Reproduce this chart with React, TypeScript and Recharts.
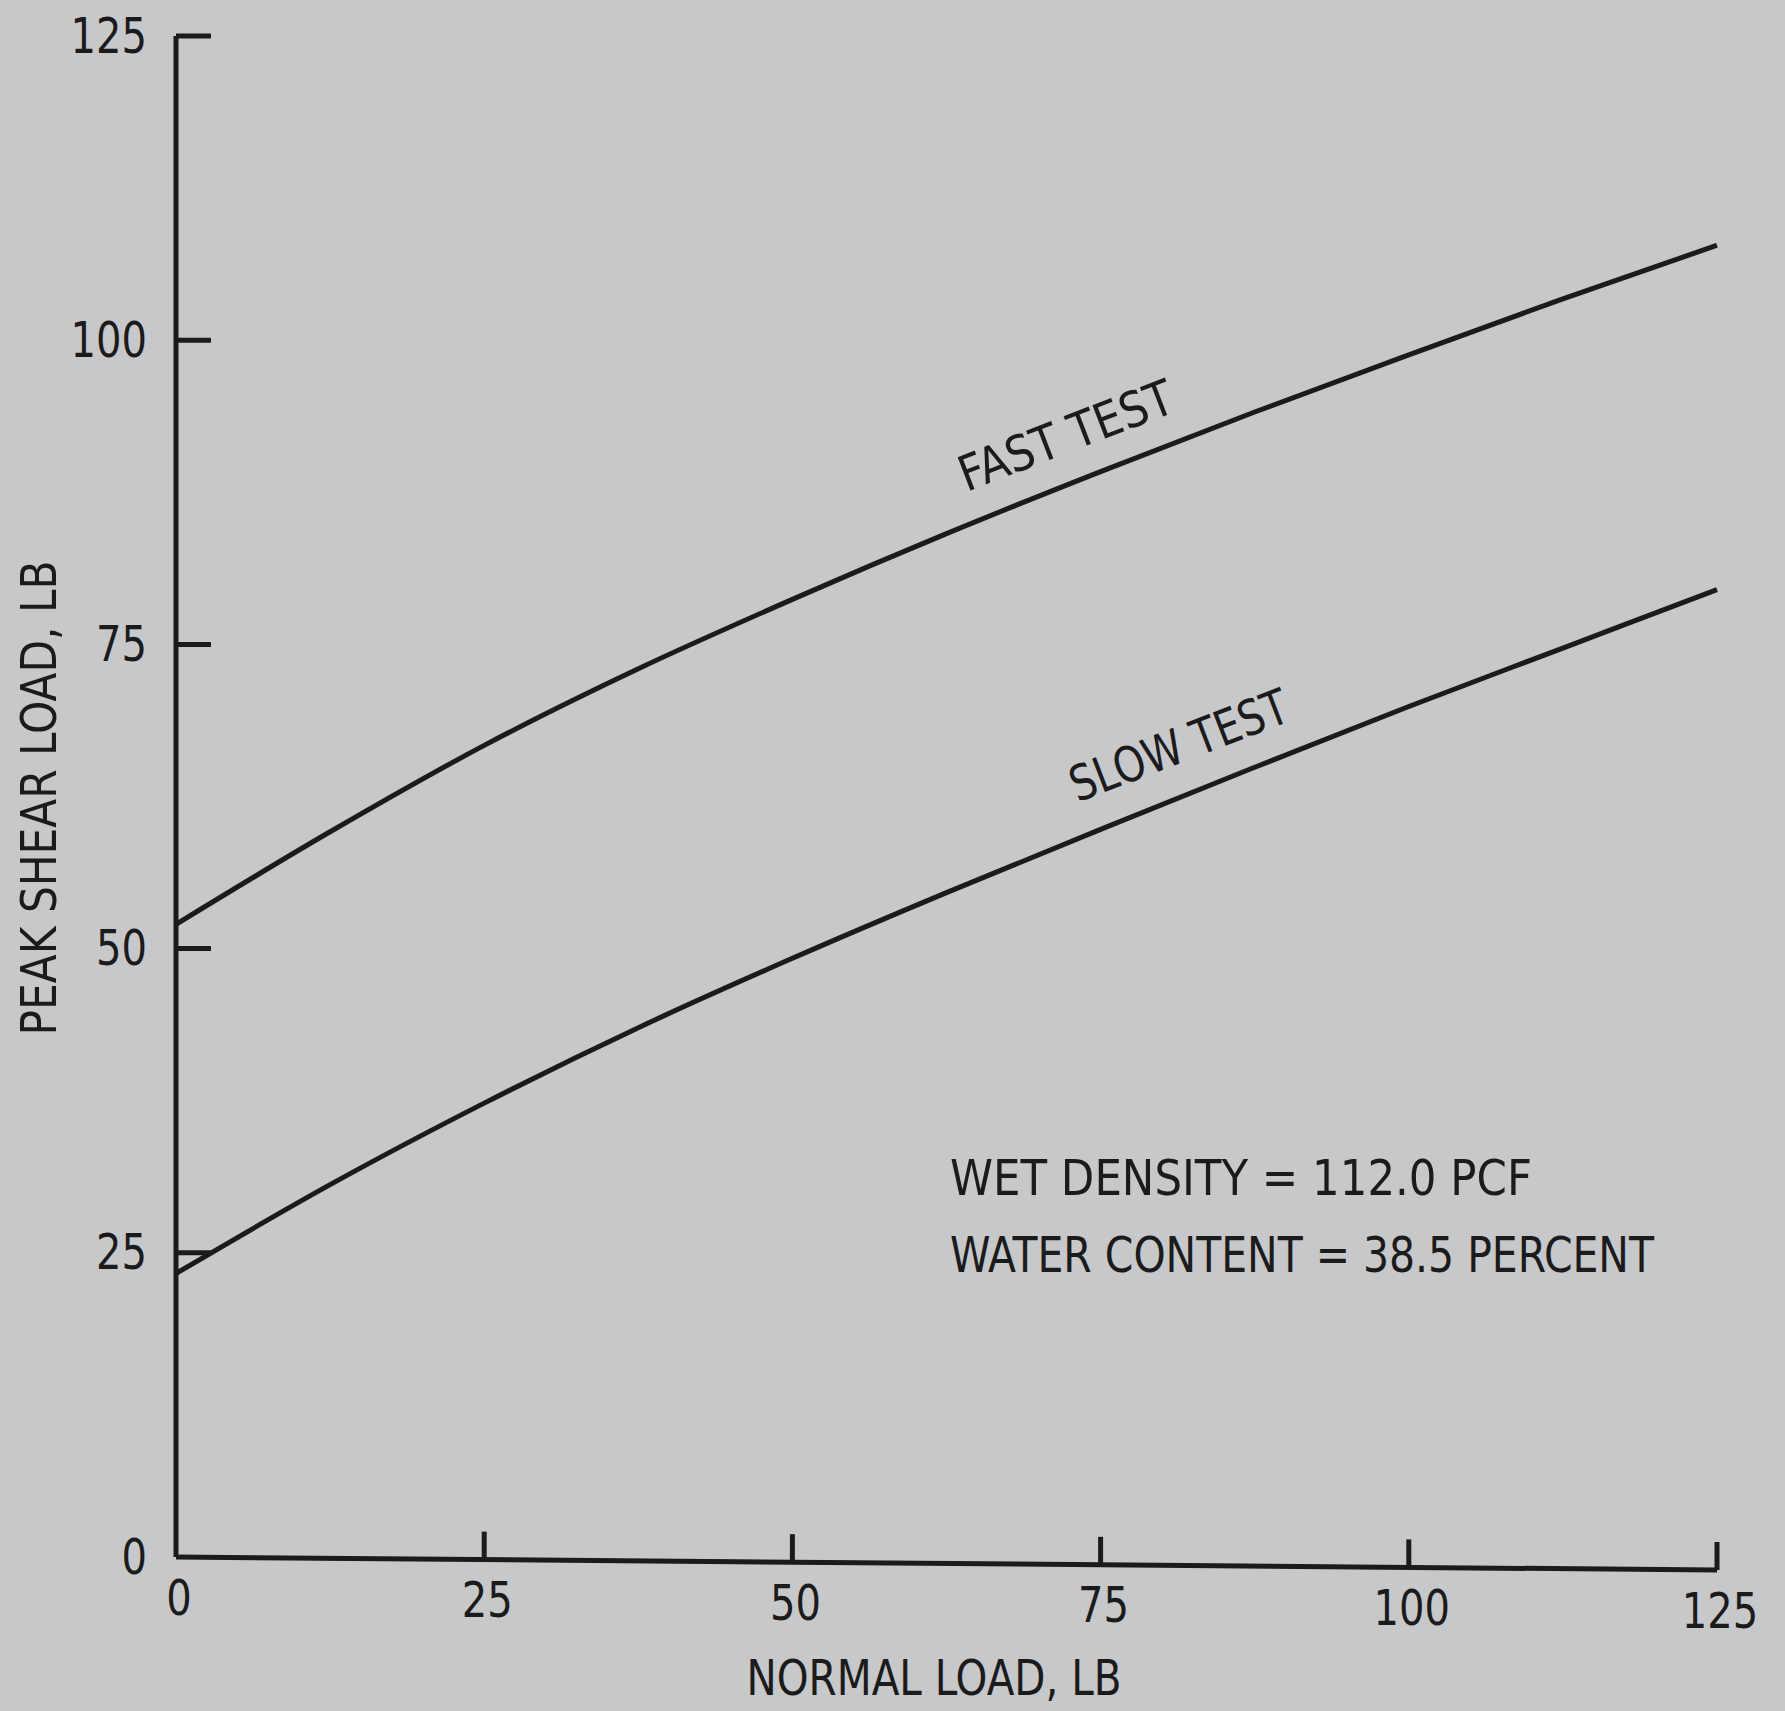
import { LineChart, Line, XAxis, YAxis, ReferenceLine } from "recharts"

// full-bleed page, the paper colour runs to the window edge
document.body.style.margin = "0"

const normalLoad = [0, 12.5, 25, 37.5, 50, 62.5, 75, 87.5, 100, 112.5, 125]
const fastTest = [52.0, 59.6, 66.7, 73.0, 78.7, 84.1, 89.2, 94.1, 98.8, 103.4, 107.8]
const slowTest = [23.3, 30.6, 37.3, 43.5, 49.2, 54.6, 59.8, 64.9, 69.9, 74.7, 79.5]
const loadTicks = [0, 25, 50, 75, 100, 125]
const shearTicks = [0, 25, 50, 75, 100, 125]
const notes = ["WET DENSITY = 112.0 PCF", "WATER CONTENT = 38.5 PERCENT"]

const W = 1785
const H = 1711
const PLOT = { left: 176, top: 36, right: 1717, bottom: 1557 }
const SAG = 13 // the hand-drawn load axis drops this many px over its length
const INK = "#1b1b1c"
const PAPER = "#c7c8ca"
const FONT = "'Liberation Sans Narrow', 'DejaVu Sans Condensed', 'Arial Narrow', sans-serif"
const DIGIT_W = 25.5 // lettering-guide digits are narrow and evenly spaced

const rows = normalLoad.map((load, i) => ({ load, fast: fastTest[i], slow: slowTest[i] }))
const sagUnits = (SAG * 125) / (PLOT.bottom - PLOT.top)

function LoadTick({ x, y, payload }: any) {
  const drop = ((x - PLOT.left) / (PLOT.right - PLOT.left)) * SAG
  const yy = y + drop
  const label = String(payload.value)
  return (
    <g>
      {payload.value !== 0 && <line x1={x} x2={x} y1={yy} y2={yy - 28} stroke={INK} strokeWidth={5} />}
      <text
        x={x + 3}
        y={yy + 41}
        textAnchor="middle"
        dominantBaseline="central"
        fill={INK}
        fontSize={49}
        fontFamily={FONT}
        textLength={label.length * DIGIT_W}
        lengthAdjust="spacingAndGlyphs"
      >
        {label}
      </text>
    </g>
  )
}

function ShearTick({ x, y, payload }: any) {
  const label = String(payload.value)
  return (
    <g>
      {payload.value !== 0 && <line x1={x} x2={x + 35} y1={y} y2={y} stroke={INK} strokeWidth={5} />}
      <text
        x={x - 29}
        y={y}
        textAnchor="end"
        dominantBaseline="central"
        fill={INK}
        fontSize={49}
        fontFamily={FONT}
        textLength={label.length * DIGIT_W}
        lengthAdjust="spacingAndGlyphs"
      >
        {label}
      </text>
    </g>
  )
}

const textStyle = { fill: INK, fontSize: 49, fontFamily: FONT }

export default function App() {
  return (
    <div style={{ position: "relative", width: W, height: H, background: PAPER }}>
      <LineChart width={W} height={H} data={rows} margin={{ top: PLOT.top, right: W - PLOT.right, bottom: 0, left: 0 }}>
        <XAxis
          dataKey="load"
          type="number"
          domain={[0, 125]}
          ticks={loadTicks}
          height={H - PLOT.bottom}
          axisLine={false}
          tickLine={false}
          tickSize={0}
          tickMargin={0}
          tick={<LoadTick />}
          interval={0}
        />
        <YAxis
          type="number"
          domain={[0, 125]}
          ticks={shearTicks}
          width={PLOT.left}
          axisLine={{ stroke: INK, strokeWidth: 5 }}
          tickLine={false}
          tickSize={0}
          tickMargin={0}
          tick={<ShearTick />}
          interval={0}
        />
        <ReferenceLine
          segment={[{ x: 0, y: 0 }, { x: 125, y: -sagUnits }]}
          stroke={INK}
          strokeWidth={5}
          ifOverflow="visible"
        />
        <Line dataKey="fast" type="monotone" stroke={INK} strokeWidth={5} dot={false} isAnimationActive={false} />
        <Line dataKey="slow" type="monotone" stroke={INK} strokeWidth={5} dot={false} isAnimationActive={false} />
      </LineChart>

      <svg width={W} height={H} style={{ position: "absolute", left: 0, top: 0, pointerEvents: "none" }}>
        <text
          {...textStyle}
          x={39}
          y={798}
          textAnchor="middle"
          dominantBaseline="central"
          transform="rotate(-90 39 798)"
          textLength={475}
          lengthAdjust="spacingAndGlyphs"
        >
          PEAK SHEAR LOAD, LB
        </text>
        <text {...textStyle} x={934} y={1678} textAnchor="middle" dominantBaseline="central" textLength={375} lengthAdjust="spacingAndGlyphs">
          NORMAL LOAD, LB
        </text>
        <text {...textStyle} x={950} y={1178} dominantBaseline="central" textLength={582} lengthAdjust="spacingAndGlyphs">
          {notes[0]}
        </text>
        <text {...textStyle} x={950} y={1255} dominantBaseline="central" textLength={704} lengthAdjust="spacingAndGlyphs">
          {notes[1]}
        </text>
        <text
          {...textStyle}
          x={1066}
          y={436}
          textAnchor="middle"
          dominantBaseline="central"
          transform="rotate(-21 1066 436)"
          textLength={226}
          lengthAdjust="spacingAndGlyphs"
        >
          FAST TEST
        </text>
        <text
          {...textStyle}
          x={1179}
          y={746}
          textAnchor="middle"
          dominantBaseline="central"
          transform="rotate(-21 1179 746)"
          textLength={230}
          lengthAdjust="spacingAndGlyphs"
        >
          SLOW TEST
        </text>
      </svg>
    </div>
  )
}
